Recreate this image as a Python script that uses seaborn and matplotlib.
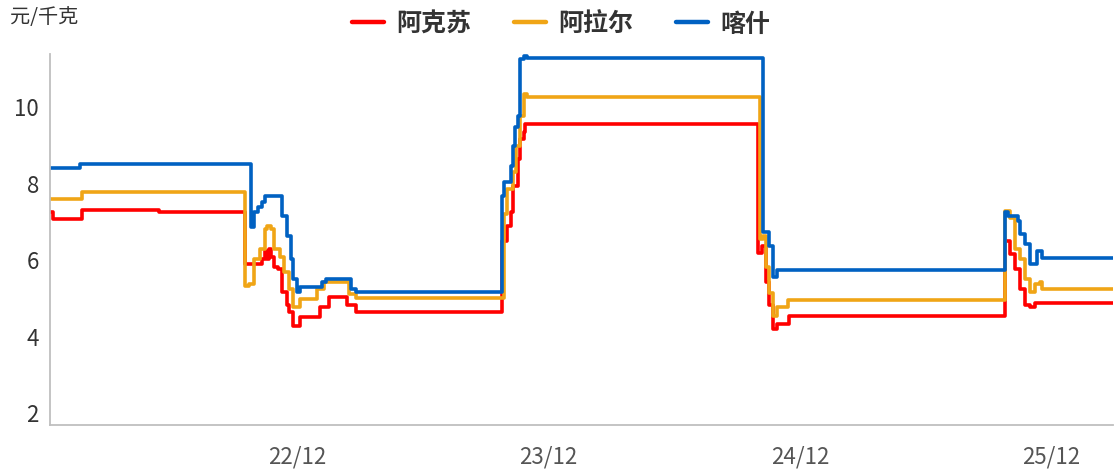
import matplotlib
matplotlib.use("Agg")
import matplotlib.pyplot as plt
from matplotlib.transforms import ScaledTranslation
from matplotlib.font_manager import FontProperties
import pandas as pd
import seaborn as sns

# ---------------- data ----------------
series_names = ["阿克苏", "阿拉尔", "喀什"]
series_colors = ["#FF0000", "#F0A516", "#0061C2"]

aksu_dates = ["2021-12-06", "2021-12-10", "2022-01-22", "2022-05-14", "2022-09-15",
              "2022-10-10", "2022-10-14", "2022-10-18", "2022-10-21", "2022-10-24",
              "2022-10-28", "2022-11-02", "2022-11-09", "2022-11-15", "2022-11-19",
              "2022-11-24", "2022-12-04", "2023-01-02", "2023-01-16", "2023-02-11",
              "2023-02-24", "2023-09-25", "2023-10-02", "2023-10-07", "2023-10-11",
              "2023-10-17", "2023-10-21", "2023-10-26", "2023-10-28", "2024-10-01",
              "2024-10-07", "2024-10-12", "2024-10-16", "2024-10-23", "2024-10-29",
              "2024-11-15", "2025-09-25", "2025-10-02", "2025-10-10", "2025-10-17",
              "2025-10-24", "2025-10-31", "2025-11-08", "2026-03-01"]
aksu_prices = [7.52, 7.34, 7.58, 7.52, 6.16,
               6.30, 6.50, 6.30, 6.55, 6.35,
               6.10, 6.03, 5.43, 5.11, 4.91,
               4.55, 4.78, 5.04, 5.30, 5.11,
               4.91, 6.76, 7.15, 7.52, 8.20,
               8.91, 9.43, 9.61, 9.82, 6.47,
               6.63, 5.70, 5.10, 4.46, 4.59,
               4.80, 6.76, 6.42, 6.03, 5.51,
               5.11, 5.04, 5.14, 5.14]

alar_dates = ["2021-12-06", "2022-01-22", "2022-09-16", "2022-09-22", "2022-09-29",
              "2022-10-07", "2022-10-14", "2022-10-18", "2022-10-24", "2022-10-28",
              "2022-11-05", "2022-11-12", "2022-11-19", "2022-11-24", "2022-12-04",
              "2022-12-30", "2023-01-09", "2023-02-14", "2023-02-24", "2023-09-27",
              "2023-10-02", "2023-10-10", "2023-10-15", "2023-10-21", "2023-10-26",
              "2023-10-31", "2024-10-04", "2024-10-08", "2024-10-12", "2024-10-16",
              "2024-10-23", "2024-10-29", "2024-11-14", "2025-09-25", "2025-10-02",
              "2025-10-10", "2025-10-17", "2025-10-24", "2025-10-31", "2025-11-08",
              "2025-11-15", "2025-11-18", "2026-03-01"]
alar_prices = [7.86, 8.05, 5.59, 5.65, 6.29,
               6.55, 7.08, 7.15, 7.08, 6.55,
               6.34, 5.95, 5.51, 5.04, 5.25,
               5.51, 5.69, 5.38, 5.28, 7.47,
               8.12, 8.57, 9.25, 10.03, 10.61,
               10.53, 6.82, 6.90, 6.10, 5.40,
               4.80, 5.04, 5.22, 7.56, 7.38,
               6.55, 6.29, 5.77, 5.43, 5.64,
               5.69, 5.51, 5.51]

kashi_dates = ["2021-12-06", "2022-01-18", "2022-09-25", "2022-09-29", "2022-10-04",
               "2022-10-11", "2022-10-15", "2022-11-08", "2022-11-16", "2022-11-21",
               "2022-11-25", "2022-11-30", "2022-12-04", "2023-01-05", "2023-01-11",
               "2023-02-17", "2023-02-24", "2023-09-24", "2023-09-27", "2023-10-07",
               "2023-10-10", "2023-10-14", "2023-10-18", "2023-10-21", "2023-10-26",
               "2023-10-31", "2024-10-08", "2024-10-16", "2024-10-22", "2024-10-29",
               "2025-09-25", "2025-09-30", "2025-10-14", "2025-10-17", "2025-10-24",
               "2025-10-31", "2025-11-11", "2025-11-18", "2026-03-01"]
kashi_prices = [8.67, 8.78, 7.13, 7.52, 7.65,
                7.78, 7.94, 7.42, 6.90, 6.29,
                5.77, 5.43, 5.56, 5.69, 5.77,
                5.51, 5.43, 7.94, 8.31, 8.73,
                9.25, 9.75, 10.03, 11.53, 11.60,
                11.55, 7.00, 6.63, 5.82, 6.01,
                7.52, 7.42, 7.29, 6.95, 6.69,
                6.16, 6.50, 6.32, 6.32]

x_tick_dates = ["2022-12-01", "2023-12-01", "2024-12-01", "2025-12-01"]
x_tick_labels = ["22/12", "23/12", "24/12", "25/12"]
y_ticks = [2, 4, 6, 8, 10]
x_range = ["2021-12-06", "2026-03-01"]
y_range = [1.96, 11.66]
unit_label = "元/千克"

# ---------------- build table ----------------
frames = []
for name, d, p in zip(series_names,
                      [aksu_dates, alar_dates, kashi_dates],
                      [aksu_prices, alar_prices, kashi_prices]):
    frames.append(pd.DataFrame({"date": pd.to_datetime(d), "price": p, "region": name}))
df = pd.concat(frames, ignore_index=True)

# ---------------- plot ----------------
sns.set_theme(style="white")
plt.rcParams["font.family"] = ["Noto Sans CJK SC", "DejaVu Sans"]

W, H = 1115, 477
fig = plt.figure(figsize=(W / 100, H / 100), dpi=100)
ax = fig.add_axes([50 / W, 51 / H, 1063 / W, 371 / H])

sns.lineplot(data=df, x="date", y="price", hue="region",
             hue_order=series_names, palette=series_colors,
             estimator=None, drawstyle="steps-post", linewidth=2.6,
             ax=ax)

ax.set_xlim(pd.Timestamp(x_range[0]), pd.Timestamp(x_range[1]))
ax.set_ylim(*y_range)
ax.set_xticks(pd.to_datetime(x_tick_dates))
ax.set_xticklabels(x_tick_labels)
ax.set_yticks(y_ticks)
ax.set_yticklabels([str(v) for v in y_ticks])
ax.set_xlabel("")
ax.set_ylabel("")

for side in ["top", "right"]:
    ax.spines[side].set_visible(False)
for side in ["left", "bottom"]:
    ax.spines[side].set_color("#BFBFBF")
    ax.spines[side].set_linewidth(1.3)

ax.tick_params(axis="both", direction="in", length=8, width=1.1, color="#BFBFBF")
ax.tick_params(axis="y", labelsize=16, labelcolor="#333333", pad=8)
ax.tick_params(axis="x", labelsize=16, labelcolor="#555555", pad=14)

shift = ScaledTranslation(0, 11 / 100, fig.dpi_scale_trans)
for lbl in ax.get_yticklabels():
    lbl.set_transform(lbl.get_transform() + shift)

handles, labels = ax.get_legend_handles_labels()
if ax.get_legend() is not None:
    ax.get_legend().remove()
leg = fig.legend(handles, labels, loc="center", bbox_to_anchor=(561 / W, 1 - 25 / H),
                 ncol=3, frameon=False,
                 prop=FontProperties(family=["Noto Sans CJK SC", "DejaVu Sans"],
                                     weight="bold", size=18),
                 handlelength=1.28, handletextpad=0.5, columnspacing=1.7)
for t in leg.get_texts():
    t.set_color("#333333")
for h in leg.legend_handles:
    h.set_linewidth(3.2)

fig.text(10 / W, 1 - 18 / H, unit_label, fontsize=14.5, color="#333333",
         ha="left", va="center")

fig.savefig("out.png", dpi=100)
